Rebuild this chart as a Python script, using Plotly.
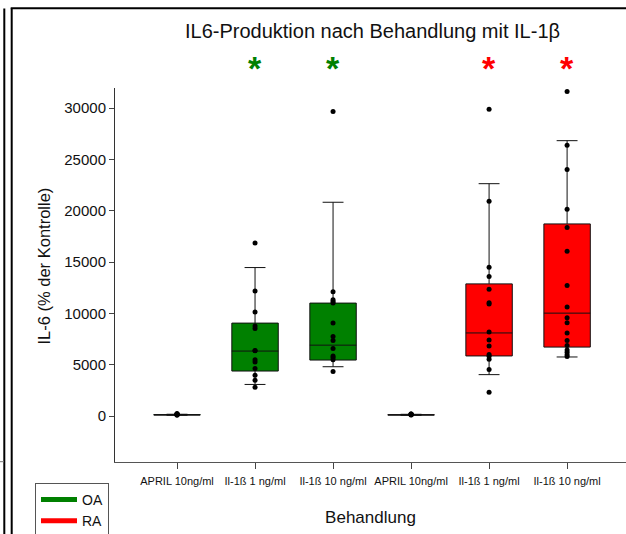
import plotly.graph_objects as go

# ---------------- data ----------------
treatments = ["APRIL 10ng/ml", "Il-1ß 1 ng/ml", "Il-1ß 10 ng/ml"]
groups = ["OA", "RA"]

# box statistics (whiskers = 10th / 90th percentile as in original)
oa_lower = [75, 3075, 4800]
oa_q1 = [95, 4380, 5450]
oa_median = [110, 6325, 6900]
oa_q3 = [135, 9050, 11000]
oa_upper = [170, 14460, 20820]

ra_lower = [70, 4030, 5750]
ra_q1 = [90, 5850, 6714]
ra_median = [105, 8090, 10020]
ra_q3 = [130, 12870, 18710]
ra_upper = [165, 22630, 26820]

# individual measurements
oa_april = [95, 110, 130, 160, 190, 210, 225]
oa_il1 = [16860, 12170, 10120, 8760, 8530, 6380, 6360, 5480, 5250, 4630, 3960, 3480, 2800]
oa_il10 = [29650, 12110, 11320, 11150, 11000, 9050, 7750, 7350, 6580, 5850, 5700, 5480, 4330]
ra_april = [90, 120, 150, 180, 195, 200]
ra_il1 = [29870, 20920, 14500, 13580, 12340, 11020, 10910, 8190, 7410, 6830, 6000, 5830, 5520, 4530, 2310]
ra_il10 = [31620, 26370, 24000, 20140, 18350, 16060, 12710, 10610, 9580, 9090, 8080, 7360, 6860,
           6420, 6200, 5970, 5800]

significant = [False, True, True, False, True, True]
y_ticks = [0, 5000, 10000, 15000, 20000, 25000, 30000]
y_ticklabels = [str(v) for v in y_ticks]
y_title = "IL-6 (% der Kontrolle)"

# ---------------- styles ----------------
FONT = "Liberation Sans, Arial, sans-serif"
colors = {"OA": "#008000", "RA": "#FF0000"}
W, H = 626, 534
ML, MR, MT, MB = 115, 0, 88, 72
PW, PH = W - ML - MR, H - MT - MB


def px_x(p):
    return (p - ML) / PW


def px_y(p):
    return (H - MB - p) / PH


fig = go.Figure()

stats = {
    "OA": (oa_lower, oa_q1, oa_median, oa_q3, oa_upper, [oa_april, oa_il1, oa_il10]),
    "RA": (ra_lower, ra_q1, ra_median, ra_q3, ra_upper, [ra_april, ra_il1, ra_il10]),
}

for gi, g in enumerate(groups):
    lo, q1, med, q3, up, pts = stats[g]
    pos = [gi * len(treatments) + ti for ti in range(len(treatments))]
    fig.add_trace(go.Box(
        x=pos, q1=q1, median=med, q3=q3, lowerfence=lo, upperfence=up,
        boxpoints=False, width=0.595, whiskerwidth=0.45,
        fillcolor=colors[g], line=dict(color="#111111", width=1),
        showlegend=False, hoverinfo="skip",
    ))
    xs, ys = [], []
    for p, vals in zip(pos, pts):
        xs += [p] * len(vals)
        ys += vals
    fig.add_trace(go.Scatter(
        x=xs, y=ys, mode="markers",
        marker=dict(color="black", size=5),
        showlegend=False, hoverinfo="skip",
    ))

# legend entries
for g in groups:
    fig.add_trace(go.Scatter(
        x=[None], y=[None], mode="lines", name=g,
        line=dict(color=colors[g], width=5),
    ))

# significance asterisks
annotations = []
for i, sig in enumerate(significant):
    if sig:
        g = groups[i // len(treatments)]
        annotations.append(dict(
            x=i, y=px_y(68), xref="x", yref="paper", text="<b>*</b>", showarrow=False,
            font=dict(family=FONT, size=34, color=colors[g]),
            xanchor="center", yanchor="middle",
        ))

# y axis title
annotations.append(dict(
    x=px_x(43), y=px_y(266.5), xref="paper", yref="paper", text=y_title,
    showarrow=False, textangle=-90, xanchor="center", yanchor="middle",
    font=dict(family=FONT, size=16.5, color="#111111"),
))

# decorative frame lines
shapes = [
    dict(type="line", xref="paper", yref="paper", x0=px_x(4.3), x1=px_x(4.3),
         y0=px_y(8.5), y1=px_y(534), line=dict(color="black", width=2)),
    dict(type="line", xref="paper", yref="paper", x0=px_x(11.7), x1=px_x(11.7),
         y0=px_y(8.3), y1=px_y(534), line=dict(color="black", width=2)),
    dict(type="line", xref="paper", yref="paper", x0=px_x(10.7), x1=px_x(626),
         y0=px_y(8.3), y1=px_y(8.3), line=dict(color="black", width=2)),
    dict(type="line", xref="paper", yref="paper", x0=px_x(0), x1=px_x(4),
         y0=px_y(461.7), y1=px_y(461.7), line=dict(color="#777777", width=1)),
]

fig.update_layout(
    width=W, height=H,
    margin=dict(l=ML, r=MR, t=MT, b=MB, autoexpand=False),
    paper_bgcolor="white", plot_bgcolor="white",
    font=dict(family=FONT, color="#111111"),
    title=dict(text="IL6-Produktion nach Behandlung mit IL-1β",
               x=372.5 / W, xanchor="center", y=1 - 31 / H, yanchor="middle",
               font=dict(size=20, family=FONT, color="#111111")),
    xaxis=dict(
        range=[-0.795, 5.755], tickmode="array",
        tickvals=list(range(len(groups) * len(treatments))),
        ticktext=treatments * len(groups),
        ticks="outside", ticklen=6, tickcolor="#444444",
        showline=True, linecolor="#555555", linewidth=1,
        showgrid=False, zeroline=False, ticklabelstandoff=3, automargin=True,
        tickfont=dict(size=11, family=FONT, color="#111111"),
        title=dict(text="Behandlung", font=dict(size=17, family=FONT), standoff=24),
    ),
    yaxis=dict(
        range=[-4480, 31950], tickmode="array", tickvals=y_ticks, ticktext=y_ticklabels,
        ticks="outside", ticklen=5, tickcolor="#444444",
        showline=True, linecolor="#333333", linewidth=1,
        showgrid=False, zeroline=False, automargin=False,
        tickfont=dict(size=15, family=FONT, color="#111111"),
    ),
    legend=dict(
        xref="container", yref="container",
        x=35 / W, y=1 - 483 / H, xanchor="left", yanchor="top",
        bordercolor="#555555", borderwidth=1, bgcolor="white",
        font=dict(size=14, family=FONT), itemwidth=36,
    ),
    annotations=annotations,
    shapes=shapes,
)

fig.write_html("out.html")
